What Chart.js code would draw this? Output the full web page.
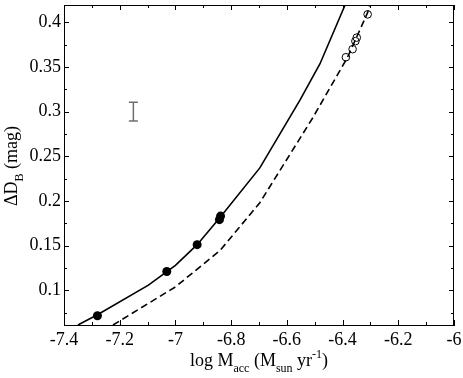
<!DOCTYPE html>
<html>
<head>
<meta charset="utf-8">
<script src="https://cdn.jsdelivr.net/npm/chart.js@4"></script>
<style>
  html, body { margin: 0; padding: 0; background: #fff; }
  canvas { display: block; }
</style>
</head>
<body>
<canvas id="accChart" width="463" height="378"></canvas>
<script>
// Data
const solidX = [-7.35, -7.28, -7.097, -7.0, -6.922, -6.84, -6.697, -6.553, -6.481, -6.391];
const solidY = [0.061, 0.0725, 0.1056, 0.1278, 0.151, 0.1814, 0.237, 0.313, 0.3537, 0.4195];
const dashX = [-7.224, -7.0, -6.84, -6.697, -6.508, -6.382, -6.31, -6.303];
const dashY = [0.061, 0.1037, 0.1444, 0.198, 0.2926, 0.361, 0.411, 0.4195];
const filledX = [-7.28, -7.031, -6.922, -6.842, -6.838];
const filledY = [0.0714, 0.121, 0.151, 0.179, 0.183];
const openX = [-6.388, -6.364, -6.354, -6.349, -6.31];
const openY = [0.361, 0.370, 0.379, 0.383, 0.409];
const errX = [-7.151];
const errY = [0.3];
const errD = [0.0105];

const xTicks = [-7.4, -7.2, -7, -6.8, -6.6, -6.4, -6.2, -6];
const xTickLabels = ['-7.4', '-7.2', '-7', '-6.8', '-6.6', '-6.4', '-6.2', '-6'];
const xMinor = [-7.3, -7.1, -6.9, -6.7, -6.5, -6.3, -6.1];
const yTicks = [0.1, 0.15, 0.2, 0.25, 0.3, 0.35, 0.4];
const yTickLabels = ['0.1', '0.15', '0.2', '0.25', '0.3', '0.35', '0.4'];
const yMinor = [0.075, 0.125, 0.175, 0.225, 0.275, 0.325, 0.375];

const FONT = "'Liberation Serif', 'Times New Roman', serif";

function toPoints(xs, ys) {
    return xs.map((x, i) => ({ x: x, y: ys[i] }));
}

// draw text made of normal / sub / sup pieces, centred on x
function drawRich(ctx, parts, x, y) {
    let total = 0;
    parts.forEach(p => {
        ctx.font = (p[1] === 'n' ? 18 : 12) + 'px ' + FONT;
        total += ctx.measureText(p[0]).width;
    });
    let cx = x - total / 2;
    ctx.textAlign = 'left';
    ctx.textBaseline = 'alphabetic';
    parts.forEach(p => {
        ctx.font = (p[1] === 'n' ? 18 : 12) + 'px ' + FONT;
        let dy = 0;
        if (p[1] === 'sub') dy = 6;
        if (p[1] === 'sup') dy = -8;
        ctx.fillText(p[0], cx, y + dy);
        cx += ctx.measureText(p[0]).width;
    });
}

// inward ticks on all four sides, box, error bar, axis titles
const framePlugin = {
    id: 'frame',
    afterDatasetsDraw(chart) {
        const ctx = chart.ctx;
        const a = chart.chartArea;
        const xs = chart.scales.x;
        const ys = chart.scales.y;
        ctx.save();
        ctx.strokeStyle = '#000';
        ctx.lineWidth = 1;
        ctx.beginPath();
        ctx.moveTo(a.left, a.top + 0.5);
        ctx.lineTo(a.right, a.top + 0.5);
        ctx.moveTo(a.right - 0.5, a.top);
        ctx.lineTo(a.right - 0.5, a.bottom);
        const xt = (list, len) => list.forEach(v => {
            const px = Math.round(xs.getPixelForValue(v)) + 0.5;
            ctx.moveTo(px, a.bottom); ctx.lineTo(px, a.bottom - len);
            ctx.moveTo(px, a.top); ctx.lineTo(px, a.top + len);
        });
        const yt = (list, len) => list.forEach(v => {
            const py = Math.round(ys.getPixelForValue(v)) + 0.5;
            ctx.moveTo(a.left, py); ctx.lineTo(a.left + len, py);
            ctx.moveTo(a.right, py); ctx.lineTo(a.right - len, py);
        });
        xt(xTicks, 5); xt(xMinor, 3);
        yt(yTicks, 5); yt(yMinor, 3);
        ctx.stroke();

        // error bar
        ctx.strokeStyle = '#6e6e6e';
        ctx.lineWidth = 1.5;
        ctx.beginPath();
        errX.forEach((ex, i) => {
            const px = xs.getPixelForValue(ex);
            const top = ys.getPixelForValue(errY[i] + errD[i]);
            const bot = ys.getPixelForValue(errY[i] - errD[i]);
            ctx.moveTo(px, top); ctx.lineTo(px, bot);
            ctx.moveTo(px - 4.5, top); ctx.lineTo(px + 4.5, top);
            ctx.moveTo(px - 4.5, bot); ctx.lineTo(px + 4.5, bot);
        });
        ctx.stroke();
        ctx.restore();
    },
    afterDraw(chart) {
        const ctx = chart.ctx;
        const a = chart.chartArea;
        ctx.save();
        ctx.fillStyle = '#000';
        drawRich(ctx, [['log M', 'n'], ['acc', 'sub'], [' (M', 'n'], ['sun', 'sub'],
            [' yr', 'n'], ['-1', 'sup'], [')', 'n']], (a.left + a.right) / 2, 366);
        ctx.translate(17, 166);
        ctx.rotate(-Math.PI / 2);
        drawRich(ctx, [['\u0394D', 'n'], ['B', 'sub'], [' (mag)', 'n']], 0, 0);
        ctx.restore();
    }
};

function initChart() {
    const ctx = document.getElementById('accChart').getContext('2d');
    new Chart(ctx, {
        type: 'scatter',
        data: {
            datasets: [
                {
                    data: toPoints(solidX, solidY),
                    showLine: true,
                    borderColor: '#000',
                    borderWidth: 1.6,
                    pointRadius: 0,
                    tension: 0
                },
                {
                    data: toPoints(dashX, dashY),
                    showLine: true,
                    borderColor: '#000',
                    borderWidth: 1.6,
                    borderDash: [7, 4],
                    pointRadius: 0,
                    tension: 0
                },
                {
                    data: toPoints(filledX, filledY),
                    pointRadius: 4.5,
                    backgroundColor: '#000',
                    borderColor: '#000',
                    borderWidth: 0
                },
                {
                    data: toPoints(openX, openY),
                    pointRadius: 3.8,
                    backgroundColor: 'rgba(255,255,255,0)',
                    borderColor: '#000',
                    borderWidth: 1
                }
            ]
        },
        options: {
            responsive: false,
            animation: false,
            layout: { padding: { top: 3, right: 9, left: 0, bottom: 0 } },
            plugins: {
                legend: { display: false },
                tooltip: { enabled: false }
            },
            scales: {
                x: {
                    type: 'linear',
                    min: -7.4,
                    max: -6,
                    afterBuildTicks: scale => { scale.ticks = xTicks.map(v => ({ value: v })); },
                    afterFit: scale => {
                        scale.height = 53;
                        scale.paddingLeft = 0;
                        scale.paddingRight = 0;
                    },
                    ticks: {
                        callback: (v, i) => xTickLabels[i],
                        font: { family: FONT, size: 18 },
                        color: '#000',
                        padding: 4,
                        maxRotation: 0,
                        autoSkip: false
                    },
                    grid: { display: false, drawTicks: false },
                    border: { display: true, color: '#000', width: 1 }
                },
                y: {
                    type: 'linear',
                    min: 0.061,
                    max: 0.4195,
                    afterBuildTicks: scale => { scale.ticks = yTicks.map(v => ({ value: v })); },
                    afterFit: scale => {
                        scale.width = 64;
                        scale.paddingTop = 0;
                        scale.paddingBottom = 0;
                    },
                    ticks: {
                        callback: (v, i) => yTickLabels[i],
                        font: { family: FONT, size: 18 },
                        color: '#000',
                        padding: 3,
                        autoSkip: false
                    },
                    grid: { display: false, drawTicks: false },
                    border: { display: true, color: '#000', width: 1 }
                }
            }
        },
        plugins: [framePlugin]
    });
}

initChart();
</script>
</body>
</html>
